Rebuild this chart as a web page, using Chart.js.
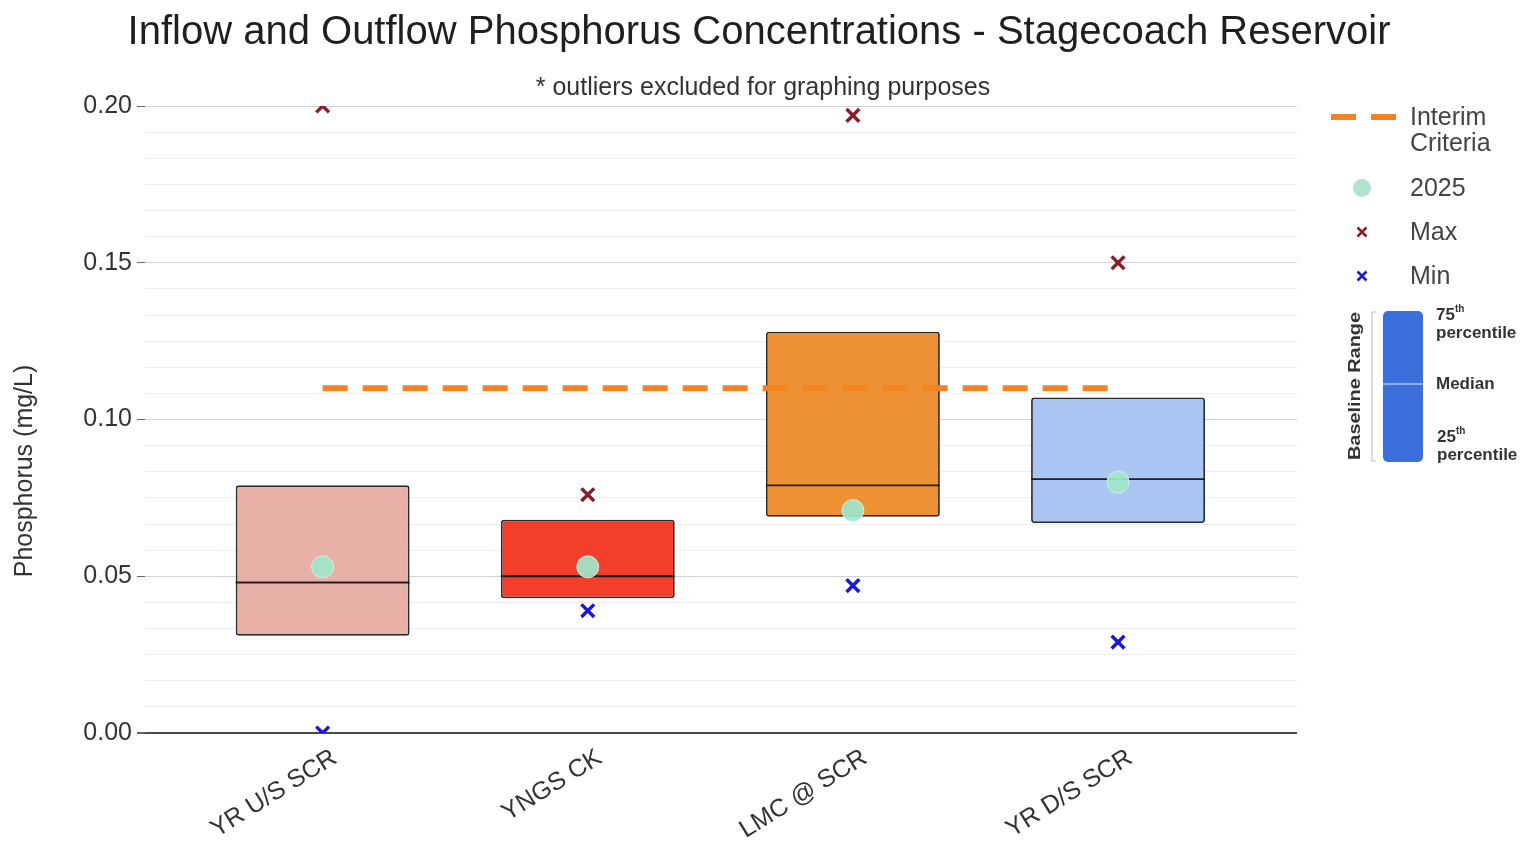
<!DOCTYPE html>
<html>
<head>
<meta charset="utf-8">
<script src="https://cdn.jsdelivr.net/npm/chart.js@4.4.1/dist/chart.umd.min.js"></script>
<style>
  html, body { margin: 0; padding: 0; background: #ffffff; }
  #wrap { width: 1529px; height: 842px; }
</style>
</head>
<body>
<div id="wrap"><canvas id="chart" width="1529" height="842"></canvas></div>
<script>
// Monitoring sites along the reservoir
const categories = ['YR U/S SCR', 'YNGS CK', 'LMC @ SCR', 'YR D/S SCR'];

// Baseline range (25th / 75th percentile) and median, mg/L
const q25 = [0.031, 0.043, 0.069, 0.067];
const q75 = [0.079, 0.068, 0.128, 0.107];
const medians = [0.048, 0.050, 0.079, 0.081];

// 2025 results and historical extremes, mg/L
const values2025 = [0.053, 0.053, 0.071, 0.080];
const maxValues = [0.200, 0.076, 0.197, 0.150];
const minValues = [0.000, 0.039, 0.047, 0.029];

// Interim phosphorus criterion, mg/L
const interimCriteria = 0.11;

// Labelled y-axis ticks
const yTicks = [0.00, 0.05, 0.10, 0.15, 0.20];

const boxColors = ['#e8b1a8', '#f23e2a', '#ee9034', '#a9c6f3'];
const BOX_WIDTH = 0.656; // in category units
const FONT = '"Liberation Sans", Arial, sans-serif';

const isMajor = v => yTicks.some(t => Math.abs(t - v) < 1e-6);

const overlay = {
  id: 'overlay',
  afterDraw(chart) {
    const ctx = chart.ctx;
    ctx.save();
    ctx.textAlign = 'center';
    ctx.textBaseline = 'middle';

    // Title and note
    ctx.fillStyle = '#1f1f1f';
    ctx.font = '40px ' + FONT;
    ctx.fillText('Inflow and Outflow Phosphorus Concentrations - Stagecoach Reservoir', 759, 33);
    ctx.fillStyle = '#333';
    ctx.font = '25px ' + FONT;
    ctx.fillText('* outliers excluded for graphing purposes', 763, 88);

    // Y-axis title
    ctx.save();
    ctx.translate(25, 471);
    ctx.rotate(-Math.PI / 2);
    ctx.fillStyle = '#333';
    ctx.font = '25px ' + FONT;
    ctx.fillText('Phosphorus (mg/L)', 0, 0);
    ctx.restore();

    // Legend
    ctx.textAlign = 'left';
    ctx.fillStyle = '#444';
    ctx.font = '25px ' + FONT;
    ctx.strokeStyle = '#f5831f';
    ctx.lineWidth = 6;
    ctx.beginPath();
    ctx.moveTo(1331, 117); ctx.lineTo(1356, 117);
    ctx.moveTo(1371, 117); ctx.lineTo(1396, 117);
    ctx.stroke();
    ctx.fillText('Interim', 1410, 118);
    ctx.fillText('Criteria', 1410, 144);

    ctx.fillStyle = 'rgba(165,225,200,0.9)';
    ctx.beginPath(); ctx.arc(1362, 188, 9, 0, Math.PI * 2); ctx.fill();
    ctx.fillStyle = '#444';
    ctx.fillText('2025', 1410, 189);

    const cross = (x, y, r, color) => {
      ctx.strokeStyle = color; ctx.lineWidth = 2.5;
      ctx.beginPath();
      ctx.moveTo(x - r, y - r); ctx.lineTo(x + r, y + r);
      ctx.moveTo(x - r, y + r); ctx.lineTo(x + r, y - r);
      ctx.stroke();
    };
    cross(1362, 232, 4.5, '#8b1c2a');
    ctx.fillText('Max', 1410, 233);
    cross(1362, 276, 4.5, '#1a1ad6');
    ctx.fillText('Min', 1410, 277);

    // Baseline range key
    ctx.strokeStyle = '#bbb'; ctx.lineWidth = 1;
    ctx.beginPath();
    ctx.moveTo(1376, 312); ctx.lineTo(1372, 312); ctx.lineTo(1372, 461); ctx.lineTo(1376, 461);
    ctx.stroke();
    ctx.fillStyle = '#3b6fdb';
    ctx.beginPath(); ctx.roundRect(1383, 311, 40, 151, 5); ctx.fill();
    ctx.strokeStyle = '#a9c3f5'; ctx.lineWidth = 1.5;
    ctx.beginPath(); ctx.moveTo(1383, 384); ctx.lineTo(1423, 384); ctx.stroke();

    ctx.save();
    ctx.translate(1356, 386);
    ctx.rotate(-Math.PI / 2);
    ctx.textAlign = 'center';
    ctx.fillStyle = '#333';
    ctx.font = 'bold 16px ' + FONT;
    const bw = ctx.measureText('Baseline Range').width;
    ctx.scale(148 / bw, 1);
    ctx.fillText('Baseline Range', 0, 0);
    ctx.restore();

    ctx.fillStyle = '#333';
    const sup = (base, s, x, y) => {
      ctx.font = 'bold 17px ' + FONT;
      ctx.fillText(base, x, y);
      const w = ctx.measureText(base).width;
      ctx.font = 'bold 10px ' + FONT;
      ctx.fillText(s, x + w, y - 6);
      ctx.font = 'bold 17px ' + FONT;
    };
    sup('75', 'th', 1436, 315);
    ctx.fillText('percentile', 1436, 333);
    ctx.fillText('Median', 1436, 384);
    sup('25', 'th', 1437, 437);
    ctx.fillText('percentile', 1437, 455);
    ctx.restore();
  }
};

const boxData = categories.map((c, i) => ({ x: i, y: [q25[i], q75[i]] }));
const medianData = categories.map((c, i) => ({ x: i, y: medians[i] }));
const dotData = categories.map((c, i) => ({ x: i, y: values2025[i] }));
const maxData = categories.map((c, i) => ({ x: i, y: maxValues[i] }));
const minData = categories.map((c, i) => ({ x: i, y: minValues[i] }));
const criteriaData = [{ x: 0, y: interimCriteria }, { x: categories.length - 1, y: interimCriteria }];

const halfBoxPx = ctx => {
  const xs = ctx.chart.scales.x;
  return Math.abs(xs.getPixelForValue(BOX_WIDTH / 2) - xs.getPixelForValue(0));
};

new Chart(document.getElementById('chart'), {
  type: 'bar',
  data: {
    datasets: [
      {
        type: 'line',
        label: 'Interim Criteria',
        data: criteriaData,
        borderColor: '#f5831f',
        borderWidth: 6,
        borderDash: [25, 15],
        pointRadius: 0,
        fill: false,
        order: 0
      },
      {
        type: 'scatter',
        label: '2025',
        data: dotData,
        pointStyle: 'circle',
        pointRadius: 11,
        backgroundColor: 'rgba(160,230,202,0.92)',
        borderColor: 'rgba(210,245,230,0.9)',
        borderWidth: 1,
        clip: false,
        order: 1
      },
      {
        type: 'scatter',
        label: 'Max',
        data: maxData,
        pointStyle: 'crossRot',
        pointRadius: 9,
        borderColor: '#8b1c2a',
        borderWidth: 3.5,
        order: 2
      },
      {
        type: 'scatter',
        label: 'Min',
        data: minData,
        pointStyle: 'crossRot',
        pointRadius: 9,
        borderColor: '#1a1ad6',
        borderWidth: 3.5,
        order: 2
      },
      {
        type: 'scatter',
        label: 'Median',
        data: medianData,
        pointStyle: 'line',
        pointRadius: halfBoxPx,
        borderColor: '#1e1e1e',
        borderWidth: 1.8,
        clip: false,
        order: 3
      },
      {
        type: 'bar',
        label: 'Baseline Range',
        data: boxData,
        backgroundColor: boxColors,
        borderColor: '#2a2a2a',
        borderWidth: 1.8,
        borderSkipped: false,
        borderRadius: 3,
        categoryPercentage: 1,
        barPercentage: BOX_WIDTH,
        order: 4
      }
    ]
  },
  options: {
    responsive: false,
    animation: false,
    events: [],
    layout: { padding: { left: 45, right: 232, top: 106, bottom: 0 } },
    plugins: {
      legend: { display: false },
      title: { display: false },
      tooltip: { enabled: false }
    },
    scales: {
      x: {
        type: 'linear',
        offset: false,
        min: -0.67,
        max: 3.675,
        afterFit: s => { s.height = 109; },
        afterBuildTicks: s => { s.ticks = categories.map((c, i) => ({ value: i })); },
        grid: { display: false, offset: false },
        border: { display: false },
        ticks: {
          autoSkip: false,
          maxRotation: 32,
          minRotation: 32,
          padding: 2,
          labelOffset: 12,
          color: '#333',
          font: { family: FONT, size: 25 },
          callback: v => categories[v] ?? ''
        }
      },
      y: {
        min: 0,
        max: 0.2,
        afterFit: s => { s.width = 100; },
        border: { display: false },
        grid: {
          color: c => {
            const v = c.tick ? c.tick.value : 0;
            if (Math.abs(v) < 1e-9) return '#4a4a4a';
            return isMajor(v) ? '#d4d4d4' : '#eeeeee';
          },
          lineWidth: c => (c.tick && Math.abs(c.tick.value) < 1e-9 ? 2 : 1),
          tickColor: c => (c.tick && isMajor(c.tick.value) ? '#666' : 'rgba(0,0,0,0)'),
          tickLength: 8
        },
        ticks: {
          stepSize: 0.05 / 6,
          autoSkip: false,
          padding: 5,
          color: '#333',
          font: { family: FONT, size: 25 },
          callback: v => (isMajor(v) ? v.toFixed(2) : '')
        }
      }
    }
  },
  plugins: [overlay]
});
</script>
</body>
</html>
